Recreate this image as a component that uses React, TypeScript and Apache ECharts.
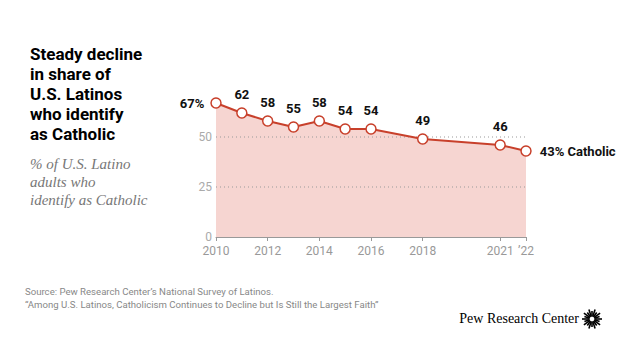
import React, { useEffect, useRef } from "react";
import * as echarts from "echarts";

const years = [2010, 2011, 2012, 2013, 2014, 2015, 2016, 2018, 2021, 2022];
const values = [67, 62, 58, 55, 58, 54, 54, 49, 46, 43];
const xTickYears = [2010, 2012, 2014, 2016, 2018, 2021, 2022];
const yTicks = [0, 25, 50];
const gridValues = [25, 50];
const titleLines = ["Steady decline", "in share of", "U.S. Latinos", "who identify", "as Catholic"];
const subtitleLines = ["% of U.S. Latino", "adults who", "identify as Catholic"];
const sourceLines = [
  "Source: Pew Research Center\u2019s National Survey of Latinos.",
  "\u201cAmong U.S. Latinos, Catholicism Continues to Decline but Is Still the Largest Faith\u201d",
];

const RED = "#c8402b";

export default function App() {
  const ref = useRef<HTMLDivElement>(null);
  useEffect(() => {
    document.body.style.margin = "0";
    const chart = echarts.init(ref.current!, null, { renderer: "svg" });
    const data = years.map((y, i) => {
      const v = values[i];
      let label: any = { show: true, position: "top", distance: 6, formatter: String(v) };
      if (i === 0) label = { show: true, position: "left", distance: 6, formatter: v + "%" };
      if (i === years.length - 1)
        label = { show: true, position: "right", distance: 8, formatter: v + "% Catholic" };
      return { value: [y, v], label };
    });
    const areaData = years.map((y, i) => [y, values[i]]);

    const sunburst: any[] = [];
    const cx = 592, cy = 319;
    for (let k = 0; k < 20; k++) {
      const a = (k / 20) * Math.PI * 2;
      const r0 = 2.5, r1 = k % 2 === 0 ? 10 : 8;
      sunburst.push({
        type: "line",
        shape: { x1: cx + r0 * Math.cos(a), y1: cy + r0 * Math.sin(a), x2: cx + r1 * Math.cos(a), y2: cy + r1 * Math.sin(a) },
        style: { stroke: "#000", lineWidth: 1.6 },
      });
    }

    const graphics: any[] = [];
    titleLines.forEach((t, i) =>
      graphics.push({
        type: "text",
        left: 30,
        top: 45 + i * 20,
        style: { text: t, font: "bold 17px Roboto, 'Liberation Sans', sans-serif", fill: "#000" },
      })
    );
    subtitleLines.forEach((t, i) =>
      graphics.push({
        type: "text",
        left: 30,
        top: 156 + i * 18,
        style: { text: t, font: "italic 15px 'Liberation Serif', serif", fill: "#777" },
      })
    );
    sourceLines.forEach((t, i) =>
      graphics.push({
        type: "text",
        left: 25,
        top: 286 + i * 13.5,
        style: { text: t, font: "9.6px Roboto, sans-serif", fill: "#888" },
      })
    );
    graphics.push({
      type: "text",
      right: 61,
      top: 311,
      style: { text: "Pew Research Center", font: "14px 'Liberation Serif', serif", fill: "#000" },
    });
    graphics.push({ type: "group", children: sunburst });

    const gridSeries = gridValues.map((g) => ({
      type: "line",
      data: [
        [2010, g],
        [2022, g],
      ],
      symbol: "none",
      silent: true,
      lineStyle: { color: "#999", type: [1, 3], width: 1 },
      z: 3,
    }));

    chart.setOption({
      animation: false,
      grid: { left: 216, right: 114, top: 87, bottom: 123 },
      xAxis: {
        type: "value",
        min: 2010,
        max: 2022,
        axisLine: { show: true, lineStyle: { color: "#999" } },
        axisTick: { show: true, customValues: xTickYears, length: 4, lineStyle: { color: "#999" } },
        axisLabel: {
          customValues: xTickYears,
          formatter: (v: number) => (v === 2022 ? "\u201922" : String(v)),
          color: "#999",
          fontSize: 12,
          fontFamily: "Roboto, sans-serif",
          margin: 8,
        },
        splitLine: { show: false },
      },
      yAxis: {
        type: "value",
        min: 0,
        max: 75,
        interval: 25,
        axisLine: { show: false },
        axisTick: { show: false },
        axisLabel: {
          customValues: yTicks,
          color: "#aaa",
          fontSize: 12,
          fontFamily: "Roboto, sans-serif",
          margin: 4,
        },
        splitLine: { show: false },
      },
      series: [
        {
          type: "line",
          data: areaData,
          symbol: "none",
          silent: true,
          lineStyle: { width: 0, opacity: 0 },
          areaStyle: { color: "#f6d5d1", opacity: 1 },
          z: 2,
        },
        ...gridSeries,
        {
          type: "line",
          data,
          symbol: "circle",
          symbolSize: 10,
          itemStyle: { color: "#fff", borderColor: RED, borderWidth: 1.5 },
          lineStyle: { color: RED, width: 2 },
          label: {
            color: "#111",
            fontWeight: "bold",
            fontSize: 13,
            fontFamily: "Roboto, sans-serif",
          },
          z: 4,
        },
      ],
      graphic: graphics,
    });
    return () => chart.dispose();
  }, []);
  return <div ref={ref} style={{ width: 640, height: 360 }} />;
}
